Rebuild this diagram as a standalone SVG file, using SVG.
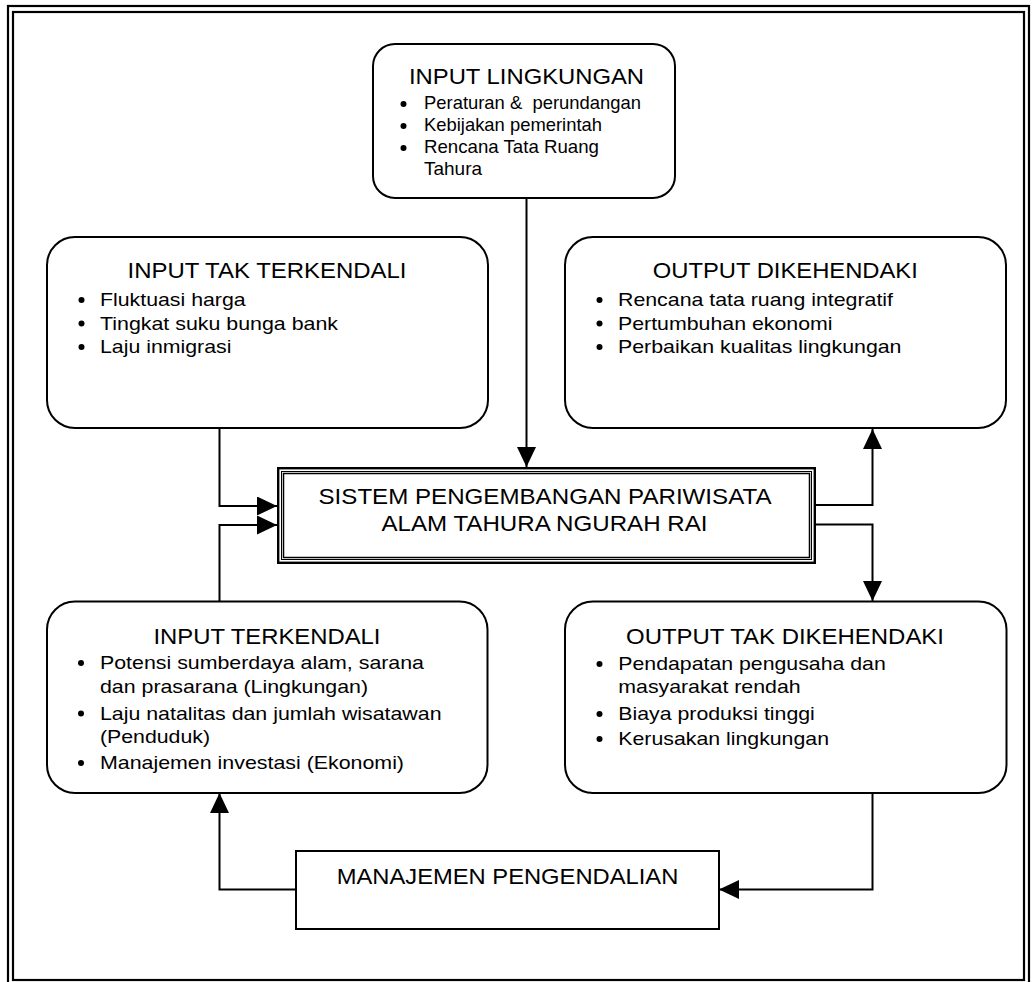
<svg xmlns="http://www.w3.org/2000/svg" width="1034" height="982" viewBox="0 0 1034 982">
  <defs>
    <style>
      .frame { fill: none; stroke: #000; stroke-width: 2.2; }
      .box { fill: #fff; stroke: #000; stroke-width: 2; }
      .conn { fill: none; stroke: #000; stroke-width: 2; }
      .t { font-family: "Liberation Sans", Arial, sans-serif; fill: #000; }
      .title { font-size: 21.5px; text-anchor: middle; }
      .main { font-size: 22.5px; text-anchor: middle; }
      .item { font-size: 18.6px; }
      .dot { fill: #000; }
    </style>
    <marker id="arrow" viewBox="0 0 20 19" refX="20" refY="9.5" markerWidth="20" markerHeight="19" markerUnits="userSpaceOnUse" orient="auto">
      <path d="M0,0 L20,9.5 L0,19 Z" fill="#000"/>
    </marker>
  </defs>

  <rect width="1034" height="982" fill="#fff"/>

  <!-- double page frame -->
  <rect class="frame" x="8" y="6" width="1021" height="990"/>
  <rect class="frame" x="13" y="12" width="1011" height="968"/>

  <!-- connectors -->
  <g id="connectors">
    <path class="conn" d="M526.5,198 V467" marker-end="url(#arrow)"/>
    <path class="conn" d="M219.5,428 V506 H277" marker-end="url(#arrow)"/>
    <path class="conn" d="M219.5,601 V525 H277" marker-end="url(#arrow)"/>
    <path class="conn" d="M816,505 H872.5 V429" marker-end="url(#arrow)"/>
    <path class="conn" d="M816,524.5 H872.5 V601" marker-end="url(#arrow)"/>
    <path class="conn" d="M872.5,793 V889.5 H719" marker-end="url(#arrow)"/>
    <path class="conn" d="M296,889.5 H219.5 V793" marker-end="url(#arrow)"/>
  </g>

  <!-- environmental input -->
  <g id="input-lingkungan">
    <rect class="box" x="373" y="44" width="302" height="154" rx="22" ry="22"/>
    <text class="t title" x="526.5" y="84" textLength="235" lengthAdjust="spacingAndGlyphs">INPUT LINGKUNGAN</text>
    <circle class="dot" cx="403.5" cy="104" r="3"/>
    <circle class="dot" cx="403.5" cy="126" r="3"/>
    <circle class="dot" cx="403.5" cy="148" r="3"/>
    <text class="t item" x="424" y="109" xml:space="preserve" style="white-space:pre" textLength="217" lengthAdjust="spacingAndGlyphs">Peraturan &amp;  perundangan</text>
    <text class="t item" x="424" y="131" textLength="178" lengthAdjust="spacingAndGlyphs">Kebijakan pemerintah</text>
    <text class="t item" x="424" y="153" textLength="175" lengthAdjust="spacingAndGlyphs">Rencana Tata Ruang</text>
    <text class="t item" x="424" y="175" textLength="58" lengthAdjust="spacingAndGlyphs">Tahura</text>
  </g>

  <!-- uncontrolled input -->
  <g id="input-tak-terkendali">
    <rect class="box" x="47" y="237" width="441" height="191" rx="28" ry="28"/>
    <text class="t title" x="267" y="277.5" textLength="279" lengthAdjust="spacingAndGlyphs">INPUT TAK TERKENDALI</text>
    <circle class="dot" cx="81.5" cy="300" r="3"/>
    <circle class="dot" cx="81.5" cy="323.5" r="3"/>
    <circle class="dot" cx="81.5" cy="347" r="3"/>
    <text class="t item" x="100" y="306" textLength="145.6" lengthAdjust="spacingAndGlyphs">Fluktuasi harga</text>
    <text class="t item" x="100" y="329.5" textLength="238" lengthAdjust="spacingAndGlyphs">Tingkat suku bunga bank</text>
    <text class="t item" x="100" y="353" textLength="131.4" lengthAdjust="spacingAndGlyphs">Laju inmigrasi</text>
  </g>

  <!-- desired output -->
  <g id="output-dikehendaki">
    <rect class="box" x="565" y="237" width="441" height="191" rx="28" ry="28"/>
    <text class="t title" x="785.3" y="277.5" textLength="265" lengthAdjust="spacingAndGlyphs">OUTPUT DIKEHENDAKI</text>
    <circle class="dot" cx="599.5" cy="300" r="3"/>
    <circle class="dot" cx="599.5" cy="323.5" r="3"/>
    <circle class="dot" cx="599.5" cy="347" r="3"/>
    <text class="t item" x="618" y="306" textLength="275" lengthAdjust="spacingAndGlyphs">Rencana tata ruang integratif</text>
    <text class="t item" x="618" y="329.5" textLength="214.5" lengthAdjust="spacingAndGlyphs">Pertumbuhan ekonomi</text>
    <text class="t item" x="618" y="353" textLength="283.5" lengthAdjust="spacingAndGlyphs">Perbaikan kualitas lingkungan</text>
  </g>

  <!-- central system -->
  <g id="sistem">
    <rect x="277" y="467" width="539" height="97" fill="#fff"/>
    <rect x="278.2" y="468.2" width="536.6" height="94.6" fill="none" stroke="#000" stroke-width="2.4"/>
    <rect x="281.5" y="471.5" width="530" height="88" fill="none" stroke="#000" stroke-width="1"/>
    <rect x="283.5" y="473.5" width="526" height="84" fill="none" stroke="#000" stroke-width="1.5"/>
    <text class="t main" x="545" y="503.5" textLength="453" lengthAdjust="spacingAndGlyphs">SISTEM PENGEMBANGAN PARIWISATA</text>
    <text class="t main" x="544.5" y="530.5" textLength="326" lengthAdjust="spacingAndGlyphs">ALAM TAHURA NGURAH RAI</text>
  </g>

  <!-- controlled input -->
  <g id="input-terkendali">
    <rect class="box" x="47" y="601.5" width="440.5" height="191.5" rx="28" ry="28"/>
    <text class="t title" x="267" y="643.5" textLength="227" lengthAdjust="spacingAndGlyphs">INPUT TERKENDALI</text>
    <circle class="dot" cx="81" cy="663" r="3"/>
    <circle class="dot" cx="81" cy="713.5" r="3"/>
    <circle class="dot" cx="81" cy="763" r="3"/>
    <text class="t item" x="100" y="669" textLength="324" lengthAdjust="spacingAndGlyphs">Potensi sumberdaya alam, sarana</text>
    <text class="t item" x="100" y="692.5" textLength="268" lengthAdjust="spacingAndGlyphs">dan prasarana (Lingkungan)</text>
    <text class="t item" x="100" y="719.5" textLength="341.5" lengthAdjust="spacingAndGlyphs">Laju natalitas dan jumlah wisatawan</text>
    <text class="t item" x="100" y="743" textLength="110" lengthAdjust="spacingAndGlyphs">(Penduduk)</text>
    <text class="t item" x="100" y="769" textLength="304" lengthAdjust="spacingAndGlyphs">Manajemen investasi (Ekonomi)</text>
  </g>

  <!-- undesired output -->
  <g id="output-tak-dikehendaki">
    <rect class="box" x="565" y="601.5" width="441.5" height="191.5" rx="28" ry="28"/>
    <text class="t title" x="785" y="643.5" textLength="318" lengthAdjust="spacingAndGlyphs">OUTPUT TAK DIKEHENDAKI</text>
    <circle class="dot" cx="599.5" cy="664" r="3"/>
    <circle class="dot" cx="599.5" cy="714" r="3"/>
    <circle class="dot" cx="599.5" cy="739" r="3"/>
    <text class="t item" x="618.3" y="670" textLength="267.5" lengthAdjust="spacingAndGlyphs">Pendapatan pengusaha dan</text>
    <text class="t item" x="618.3" y="693" textLength="182.3" lengthAdjust="spacingAndGlyphs">masyarakat rendah</text>
    <text class="t item" x="618.3" y="720" textLength="196.5" lengthAdjust="spacingAndGlyphs">Biaya produksi tinggi</text>
    <text class="t item" x="618.3" y="745" textLength="210.7" lengthAdjust="spacingAndGlyphs">Kerusakan lingkungan</text>
  </g>

  <!-- control management -->
  <g id="manajemen-pengendalian">
    <rect class="box" x="296" y="851" width="423" height="78"/>
    <text class="t title" x="507.5" y="883.5" textLength="341.6" lengthAdjust="spacingAndGlyphs">MANAJEMEN PENGENDALIAN</text>
  </g>
</svg>
